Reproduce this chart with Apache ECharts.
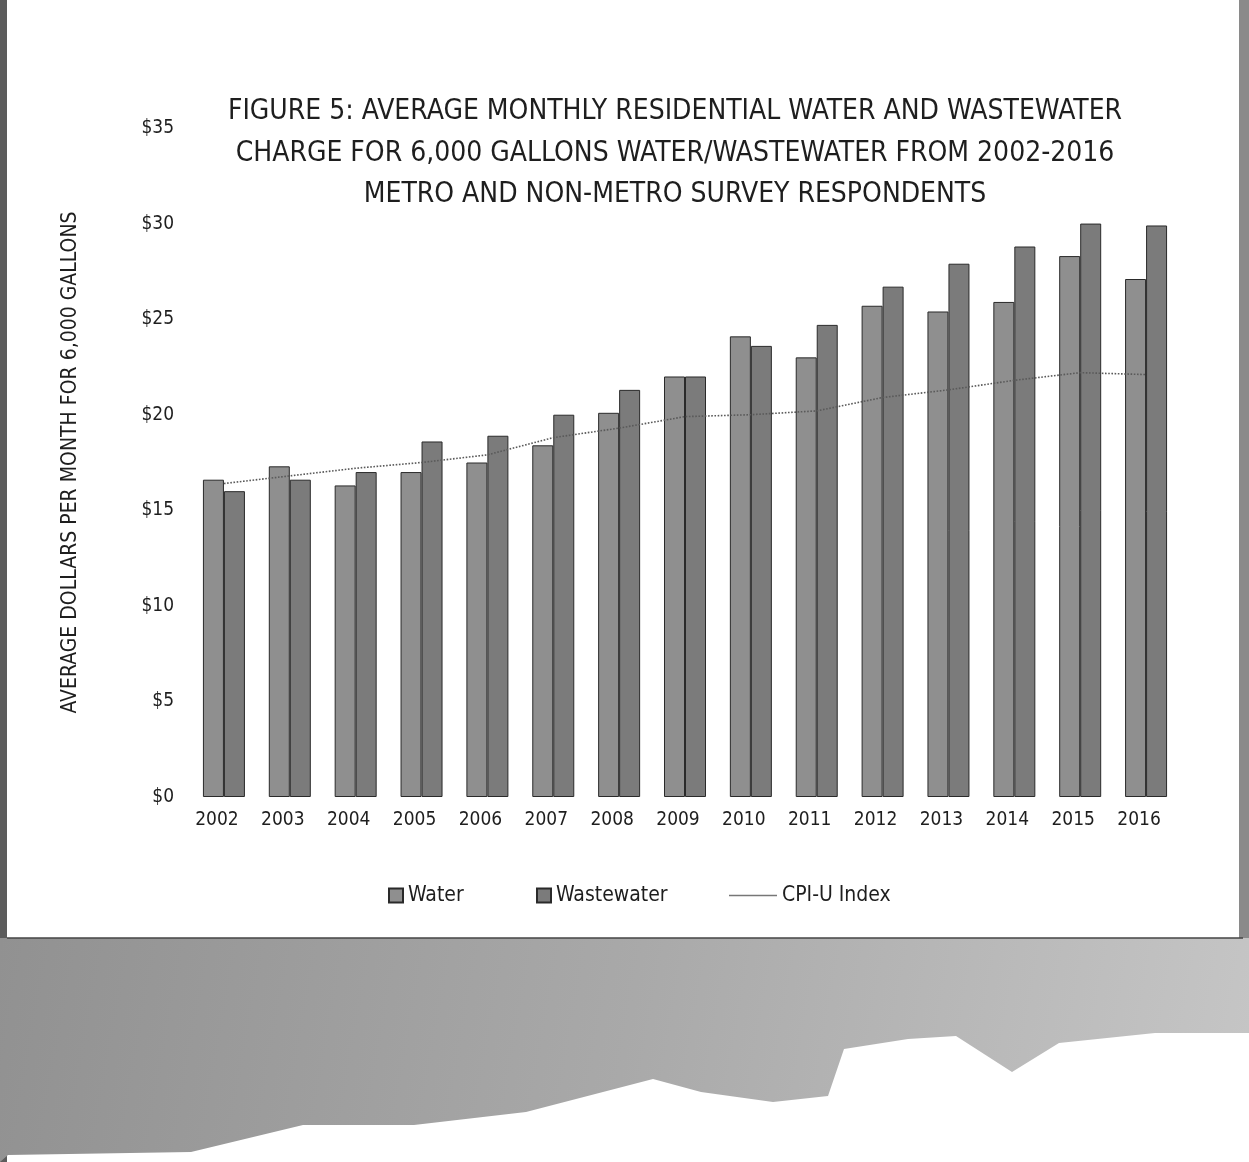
<!DOCTYPE html>
<html>
<head>
<meta charset="utf-8">
<script src="https://cdn.jsdelivr.net/npm/echarts@6/dist/echarts.min.js"></script>
<style>
  html, body { margin: 0; padding: 0; background: #fff; }
  #chart { width: 1249px; height: 1162px; }
</style>
</head>
<body>
<div id="chart"></div>
<script>
// Survey years
const years = ['2002', '2003', '2004', '2005', '2006', '2007', '2008', '2009',
               '2010', '2011', '2012', '2013', '2014', '2015', '2016'];

// Average monthly charge for 6,000 gallons (dollars)
const water      = [16.6, 17.3, 16.3, 17.0, 17.5, 18.4, 20.1, 22.0, 24.1, 23.0, 25.7, 25.4, 25.9, 28.3, 27.1];
const wastewater = [16.0, 16.6, 17.0, 18.6, 18.9, 20.0, 21.3, 22.0, 23.6, 24.7, 26.7, 27.9, 28.8, 30.0, 29.9];
const cpiU       = [16.4, 16.8, 17.2, 17.5, 17.9, 18.8, 19.3, 19.9, 20.0, 20.2, 20.9, 21.3, 21.8, 22.2, 22.1];

const titleLines = [
  'FIGURE 5: AVERAGE MONTHLY RESIDENTIAL WATER AND WASTEWATER',
  'CHARGE FOR 6,000 GALLONS WATER/WASTEWATER FROM 2002-2016',
  'METRO AND NON-METRO SURVEY RESPONDENTS'
];
const yAxisTitle = 'AVERAGE DOLLARS PER MONTH FOR 6,000 GALLONS';

const FONT = '"Liberation Sans Narrow", "DejaVu Sans Condensed", "Noto Sans", sans-serif';
const INK = '#1e1e1e';

const chart = echarts.init(document.getElementById('chart'), null, { renderer: 'canvas' });

// Scanned page edges: dark strip on the left, grey strip on the right, toned area below the figure box
const pageDecor = [
  {
    type: 'rect', silent: true, z: -10,
    shape: { x: 0, y: 0, width: 7, height: 1162 },
    style: { fill: '#5c5c5c' }
  },
  {
    type: 'rect', silent: true, z: -10,
    shape: { x: 1239, y: 0, width: 10, height: 940 },
    style: { fill: '#8a8a8a' }
  },
  {
    type: 'polygon', silent: true, z: -10,
    shape: {
      points: [
        [0, 938], [1249, 938], [1249, 1033], [1155, 1033], [1059, 1043],
        [1012, 1072], [956, 1036], [908, 1039], [844, 1049], [828, 1096],
        [773, 1102], [701, 1092], [653, 1079], [526, 1112], [414, 1125],
        [303, 1125], [191, 1152], [8, 1155], [0, 1162]
      ]
    },
    style: {
      fill: new echarts.graphic.LinearGradient(0, 0, 1, 1, [
        { offset: 0, color: '#919191' },
        { offset: 0.5, color: '#a9a9a9' },
        { offset: 1, color: '#c6c6c6' }
      ])
    }
  },
  {
    type: 'line', silent: true, z: -9,
    shape: { x1: 7, y1: 938, x2: 1243, y2: 938 },
    style: { stroke: '#444', lineWidth: 1.5 }
  }
];

const legendText = { fontFamily: FONT, fontSize: 21, color: INK };

const option = {
  backgroundColor: '#ffffff',
  animation: false,
  title: {
    text: titleLines.join('\n'),
    left: 670,
    textAlign: 'center',
    top: 86,
    textStyle: {
      fontFamily: FONT,
      fontSize: 28,
      fontWeight: 'normal',
      color: INK,
      lineHeight: 41.5
    }
  },
  legend: [
    {
      data: [{ name: 'Water', icon: 'rect' }],
      left: 383, top: 880,
      itemWidth: 14, itemHeight: 14, itemGap: 8,
      textStyle: legendText
    },
    {
      data: [{ name: 'Wastewater', icon: 'rect' }],
      left: 531, top: 880,
      itemWidth: 14, itemHeight: 14, itemGap: 8,
      textStyle: legendText
    },
    {
      data: [{ name: 'CPI-U Index', icon: 'path://M0,5 H48 V6.5 H0 Z' }],
      left: 724, top: 880,
      itemWidth: 48, itemHeight: 12, itemGap: 4,
      itemStyle: { color: '#777', borderWidth: 0 },
      textStyle: legendText
    }
  ],
  grid: { left: 191, right: 70, top: 128, bottom: 365, containLabel: false },
  xAxis: {
    type: 'category',
    data: years,
    axisLine: { show: false },
    axisTick: { show: false },
    axisLabel: {
      margin: 14,
      fontFamily: FONT,
      fontSize: 19,
      color: INK,
      padding: [0, 14, 0, 0]
    }
  },
  yAxis: {
    type: 'value',
    min: 0, max: 35, interval: 5,
    name: yAxisTitle,
    nameLocation: 'middle',
    nameRotate: 90,
    nameGap: 110,
    nameTextStyle: { fontFamily: FONT, fontSize: 21, color: INK },
    axisLine: { show: false },
    axisTick: { show: false },
    splitLine: { show: false },
    axisLabel: {
      margin: 17,
      fontFamily: FONT,
      fontSize: 19,
      color: INK,
      formatter: v => '$' + v
    }
  },
  series: [
    {
      name: 'Water',
      type: 'bar',
      data: water,
      barWidth: 21,
      barGap: '0%',
      itemStyle: { color: '#8f8f8f', borderColor: '#2a2a2a', borderWidth: 1 }
    },
    {
      name: 'Wastewater',
      type: 'bar',
      data: wastewater,
      barWidth: 21,
      barGap: '0%',
      itemStyle: { color: '#7b7b7b', borderColor: '#2a2a2a', borderWidth: 1 }
    },
    {
      name: 'CPI-U Index',
      type: 'line',
      data: cpiU,
      z: 5,
      symbol: 'none',
      showSymbol: false,
      lineStyle: { color: '#5a5a5a', width: 1.6, type: 'dotted' },
      itemStyle: { color: '#5a5a5a' }
    }
  ],
  graphic: pageDecor
};

chart.setOption(option);
</script>
</body>
</html>
